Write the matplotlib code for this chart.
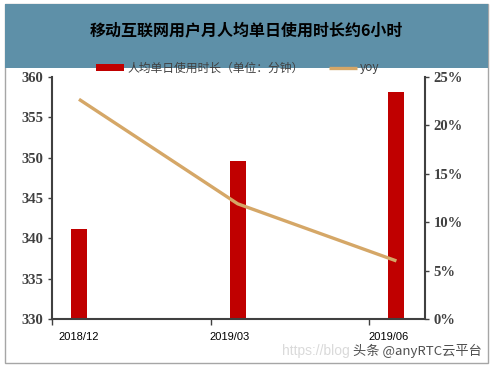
import matplotlib

matplotlib.use("Agg")
import matplotlib.pyplot as plt
from matplotlib.patches import Rectangle
from matplotlib.ticker import FuncFormatter

plt.rcParams["font.family"] = ["Noto Sans CJK SC", "DejaVu Sans"]

# data
periods = ["2018/12", "2019/03", "2019/06"]
minutes = [341.2, 349.6, 358.2]
yoy = [22.7, 11.9, 6.0]

TITLE = "移动互联网用户月人均单日使用时长约6小时"
BAR_LABEL = "人均单日使用时长（单位：分钟）"
LINE_LABEL = "yoy"

BAR_COLOR = "#C00000"
LINE_COLOR = "#D5A767"
AXIS_COLOR = "#404040"
TICK_TEXT = "#404040"

fig = plt.figure(figsize=(4.93, 3.68), dpi=100)

# outer frame and title band (behind the axes)
fig.patches.append(Rectangle((5 / 493, 5 / 368), 483 / 493, 359 / 368, transform=fig.transFigure,
                             facecolor="white", edgecolor="#A6A6A6", linewidth=1.0, zorder=-2))
fig.patches.append(Rectangle((5 / 493, 300 / 368), 483 / 493, 64 / 368, transform=fig.transFigure,
                             facecolor="#5E90A8", edgecolor="none", zorder=-1))
fig.text(0.5, 337 / 368, TITLE, ha="center", va="center", fontsize=11.5,
         fontweight="bold", color="black")

ax = fig.add_axes([52 / 493, 49 / 368, 373 / 493, 242 / 368])
ax2 = ax.twinx()
ax.patch.set_visible(False)
ax2.patch.set_visible(False)

x = list(range(len(periods)))
bars = ax.bar(x, [m - 330 for m in minutes], bottom=330, width=0.1, color=BAR_COLOR,
              label=BAR_LABEL, zorder=2)
line, = ax2.plot(x, yoy, color=LINE_COLOR, linewidth=2.4, label=LINE_LABEL,
                 solid_capstyle="butt", solid_joinstyle="round")

ax.set_xlim(-0.17, 2.18)
ax.set_ylim(330, 360)
ax2.set_ylim(0, 25)

ax.set_yticks(range(330, 361, 5))
ax2.set_yticks(range(0, 26, 5))
ax2.yaxis.set_major_formatter(FuncFormatter(lambda v, _: f"{v:.0f}%"))

# category boundary tick marks, labels sit under the bars
ax.set_xticks([-0.17, 0.83, 1.83], minor=True)
ax.set_xticks([0, 0.95, 1.95])
ax.set_xticklabels(periods, fontsize=8, family="Liberation Sans", color="black")
ax.tick_params(axis="x", which="major", length=0, pad=9)
ax.tick_params(axis="x", which="minor", length=4, direction="out", color=AXIS_COLOR, width=1)

for a in (ax, ax2):
    for s in a.spines.values():
        s.set_visible(False)
ax.spines["left"].set_visible(True)
ax.spines["bottom"].set_visible(True)
ax2.spines["right"].set_visible(True)
for s in (ax.spines["left"], ax.spines["bottom"], ax2.spines["right"]):
    s.set_color(AXIS_COLOR)
    s.set_linewidth(1.5)

for a in (ax, ax2):
    a.tick_params(axis="y", length=3, width=1, color=AXIS_COLOR, labelsize=10.5,
                  labelcolor=TICK_TEXT, pad=3)
    for lab in a.get_yticklabels():
        lab.set_family("Liberation Serif")
        lab.set_fontweight("bold")

fig.legend(handles=[bars, line], labels=[BAR_LABEL, LINE_LABEL], loc="center",
           bbox_to_anchor=(238 / 493, 300 / 368), ncol=2, frameon=False, fontsize=8.5,
           handlelength=2.3, handleheight=0.6, columnspacing=2.2, handletextpad=0.3,
           labelcolor="#404040")

# watermark
fig.text(282 / 493, 17 / 368, "https://blog", fontsize=10, color="#DADADA",
         family="Liberation Sans", va="center")
fig.text(482 / 493, 17 / 368, "头条 @anyRTC云平台", fontsize=9.5, color="#505050",
         ha="right", va="center")

fig.savefig("out.png", dpi=100)
